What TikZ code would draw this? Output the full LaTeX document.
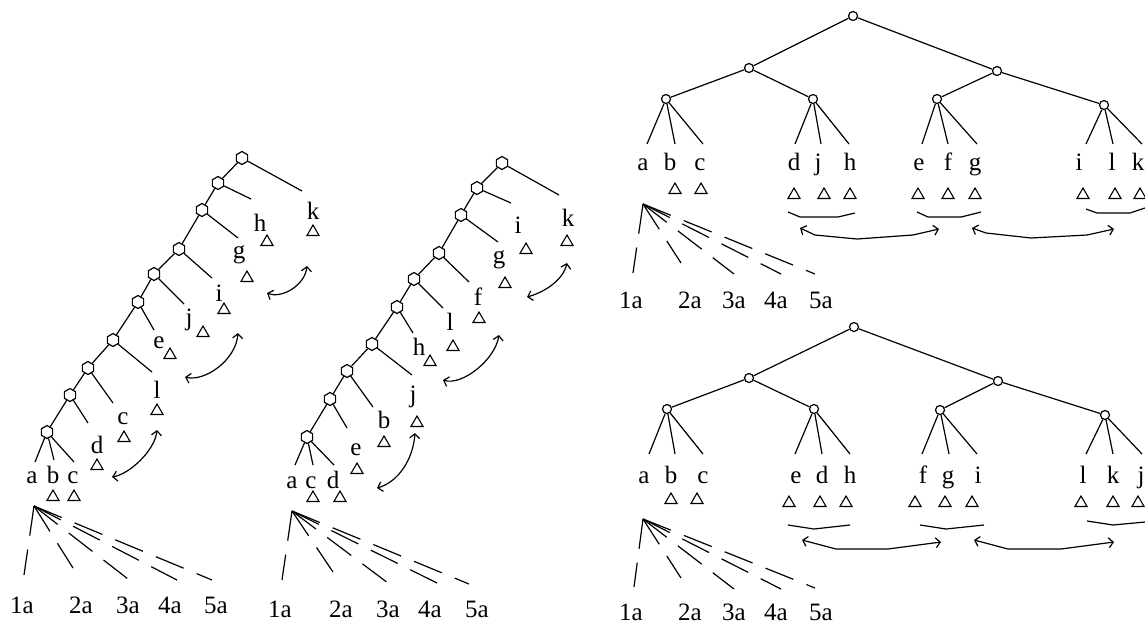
\documentclass[tikz,border=0pt]{standalone}
\usepackage{fontspec}
\setmainfont{Liberation Serif}
\usetikzlibrary{shapes.geometric,arrows.meta}

\begin{document}
\begin{tikzpicture}[x=1pt,y=-1pt,line width=1.2pt,
    hexnode/.style={draw,fill=white,regular polygon,regular polygon sides=6,
      shape border rotate=30,minimum size=13pt,inner sep=0pt},
    dotnode/.style={draw,fill=white,circle,minimum size=9pt,inner sep=0pt},
    tri/.style={draw,regular polygon,regular polygon sides=3,
      minimum size=14pt,inner sep=0pt,line width=1.1pt},
    lbl/.style={anchor=base,inner sep=0pt,font=\fontsize{25}{28}\selectfont},
    fanline/.style={dash pattern=on 30pt off 14pt},
    swap/.style={{Straight Barb[length=4.5pt,width=10pt]}-{Straight Barb[length=4.5pt,width=10pt]}}]
  \useasboundingbox (0,0) rectangle (1145,625);

  % first spine tree
  \foreach \x/\y [count=\i] in {242/158,218/183,202/210,179/249,154/274,
      138/302,113/340,88/368,70/395,47/432}
    \node[hexnode] (sa\i) at (\x,\y) {};
  \draw (sa10)--(sa9)--(sa8)--(sa7)--(sa6)--(sa5)--(sa4)--(sa3)--(sa2)--(sa1);
  \foreach \x/\y [count=\i] in {302/191,251/199,238/238,212/278,184/304,
      154/330,152/372,113/403,88/423}
    {\coordinate (ea\i) at (\x,\y); \draw (sa\i)--(ea\i);}
  \foreach \x/\y [count=\i] in {35/462,54/460,74/462}
    {\coordinate (ca\i) at (\x,\y); \draw (sa10)--(ca\i);}
  \foreach \t/\x/\y [count=\i] in {k/313/219,h/260/231,g/239/258,i/219/301,
      j/189/325,e/159/348,l/157/398,c/123/424,d/97/453,a/32/483,b/53/483,c/73/483}
    \node[lbl] (la\i) at (\x,\y) {\t};
  \foreach \x/\y [count=\i] in {313/232,267/242,247/278,224/310,203/333,
      170/355,157/411,124/438,97/466,53/497,74/497}
    \node[tri] (ta\i) at (\x,\y) {};
  \coordinate (ua1) at (267,293); \coordinate (va1) at (307,266);
  \coordinate (ua2) at (185,377); \coordinate (va2) at (238,333);
  \coordinate (ua3) at (112,477); \coordinate (va3) at (157,430);
  \draw[swap] (ua1) .. controls (282,299) and (305,285) .. (va1);
  \draw[swap] (ua2) .. controls (205,382) and (236,360) .. (va2);
  \draw[swap] (ua3) .. controls (130,474) and (155,450) .. (va3);
  \coordinate (fa) at (34,506);
  \foreach \x/\y [count=\i] in {24/575,73/568,128/579,177/580,212/580}
    {\coordinate (fa\i) at (\x,\y); \draw[fanline] (fa)--(fa\i);}
  \foreach \x [count=\i] in {22,81,128,170,216}
    \node[lbl] (na\i) at (\x,613) {\i a};

  % second spine tree
  \foreach \x/\y [count=\i] in {502/163,477/188,461/215,439/253,414/279,
      397/307,372/344,347/371,330/399,307/437}
    \node[hexnode] (sb\i) at (\x,\y) {};
  \draw (sb10)--(sb9)--(sb8)--(sb7)--(sb6)--(sb5)--(sb4)--(sb3)--(sb2)--(sb1);
  \foreach \x/\y [count=\i] in {559/195,511/203,498/242,469/282,443/308,
      413/333,412/375,373/407,347/428}
    {\coordinate (eb\i) at (\x,\y); \draw (sb\i)--(eb\i);}
  \foreach \x/\y [count=\i] in {295/465,313/465,334/465}
    {\coordinate (cb\i) at (\x,\y); \draw (sb10)--(cb\i);}
  \foreach \t/\x/\y [count=\i] in {k/568/226,i/518/233,g/499/263,f/478/305,
      l/450/330,h/419/355,j/413/402,b/384/428,e/356/455,a/292/488,c/311/488,d/333/488}
    \node[lbl] (lb\i) at (\x,\y) {\t};
  \foreach \x/\y [count=\i] in {567/242,526/250,505/284,479/319,453/347,
      430/362,417/423,384/443,357/470,313/498,340/498}
    \node[tri] (tb\i) at (\x,\y) {};
  \coordinate (ub1) at (527,297); \coordinate (vb1) at (567,263);
  \coordinate (ub2) at (443,380); \coordinate (vb2) at (499,335);
  \coordinate (ub3) at (377,488); \coordinate (vb3) at (415,433);
  \draw[swap] (ub1) .. controls (545,292) and (563,280) .. (vb1);
  \draw[swap] (ub2) .. controls (462,386) and (495,360) .. (vb2);
  \draw[swap] (ub3) .. controls (398,482) and (413,460) .. (vb3);
  \coordinate (fb) at (292,511);
  \foreach \x/\y [count=\i] in {282/580,333/572,388/583,437/583,469/584}
    {\coordinate (fb\i) at (\x,\y); \draw[fanline] (fb)--(fb\i);}
  \foreach \x [count=\i] in {280,341,388,430,477}
    \node[lbl] (nb\i) at (\x,617) {\i a};

  % upper balanced tree
  \node[dotnode] (rc) at (853,16) {};
  \node[dotnode] (rcL) at (749,68) {};
  \node[dotnode] (rcR) at (997,71) {};
  \node[dotnode] (rcLL) at (666,99) {};
  \node[dotnode] (rcLR) at (813,99) {};
  \node[dotnode] (rcRL) at (937,99) {};
  \node[dotnode] (rcRR) at (1104,105) {};
  \draw (rcL)--(rc)--(rcR);
  \draw (rcLL)--(rcL)--(rcLR);
  \draw (rcRL)--(rcR)--(rcRR);
  \foreach \p/\x [count=\i] in {rcLL/647,rcLL/675,rcLL/703,rcLR/795,rcLR/821,rcLR/849,
      rcRL/922,rcRL/948,rcRL/977,rcRR/1086,rcRR/1113,rcRR/1142}
    {\coordinate (ec\i) at (\x,144); \draw (\p)--(ec\i);}
  \foreach \t/\x [count=\i] in {a/643,b/670,c/700,d/794,j/818,h/850,
      e/919,f/948,g/975,i/1079,l/1112,k/1138}
    \node[lbl] (lc\i) at (\x,170) {\t};
  \foreach \x/\y [count=\i] in {675/190,701/190,794/195,824/195,850/195,
      918/195,948/195,975/195,1083/195,1115/195,1140/195}
    \node[tri] (tc\i) at (\x,\y) {};
  \draw (788,212)--(800,217)--(838,217)--(855,213);
  \draw (917,212)--(928,217)--(961,217)--(981,212);
  \draw (1086,209)--(1097,213)--(1130,213)--(1145,208);
  \coordinate (uc1) at (800,228); \coordinate (vc1) at (939,229);
  \coordinate (uc2) at (972,228); \coordinate (vc2) at (1114,229);
  \draw[swap] (uc1)--(815,235)--(857,239)--(913,235)--(vc1);
  \draw[swap] (uc2)--(986,233)--(1031,238)--(1087,235)--(vc2);
  \coordinate (fc) at (643,204);
  \foreach \x/\y [count=\i] in {633/273,681/263,734/274,781/274,815/274}
    {\coordinate (fc\i) at (\x,\y); \draw[fanline] (fc)--(fc\i);}
  \foreach \x [count=\i] in {631,690,734,776,821}
    \node[lbl] (nc\i) at (\x,308) {\i a};

  % lower balanced tree
  \node[dotnode] (rd) at (854,327) {};
  \node[dotnode] (rdL) at (749,378) {};
  \node[dotnode] (rdR) at (998,381) {};
  \node[dotnode] (rdLL) at (667,409) {};
  \node[dotnode] (rdLR) at (814,409) {};
  \node[dotnode] (rdRL) at (940,410) {};
  \node[dotnode] (rdRR) at (1105,415) {};
  \draw (rdL)--(rd)--(rdR);
  \draw (rdLL)--(rdL)--(rdLR);
  \draw (rdRL)--(rdR)--(rdRR);
  \foreach \p/\x [count=\i] in {rdLL/649,rdLL/675,rdLL/703,rdLR/795,rdLR/822,rdLR/850,
      rdRL/922,rdRL/949,rdRL/977,rdRR/1086,rdRR/1113,rdRR/1142}
    {\coordinate (ed\i) at (\x,454); \draw (\p)--(ed\i);}
  \foreach \t/\x [count=\i] in {a/644,b/671,c/703,e/796,d/822,h/850,
      f/923,g/948,i/978,l/1083,k/1113,j/1141}
    \node[lbl] (ld\i) at (\x,483) {\t};
  \foreach \x/\y [count=\i] in {671/500,697/500,789/503,820/503,846/503,
      915/503,945/503,972/503,1081/503,1113/503,1138/503}
    \node[tri] (td\i) at (\x,\y) {};
  \draw (788,525)--(814,529)--(850,525);
  \draw (920,525)--(946,529)--(984,525);
  \draw (1087,521)--(1113,525)--(1145,522);
  \coordinate (ud1) at (802,540); \coordinate (vd1) at (941,542);
  \coordinate (ud2) at (974,540); \coordinate (vd2) at (1114,542);
  \draw[swap] (ud1)--(836,549)--(888,549)--(vd1);
  \draw[swap] (ud2)--(1008,549)--(1061,549)--(vd2);
  \coordinate (fd) at (643,519);
  \foreach \x/\y [count=\i] in {634/587,681/578,734/589,781/589,815/588}
    {\coordinate (fd\i) at (\x,\y); \draw[fanline] (fd)--(fd\i);}
  \foreach \x [count=\i] in {631,690,734,776,821}
    \node[lbl] (nd\i) at (\x,620) {\i a};
\end{tikzpicture}
\end{document}
